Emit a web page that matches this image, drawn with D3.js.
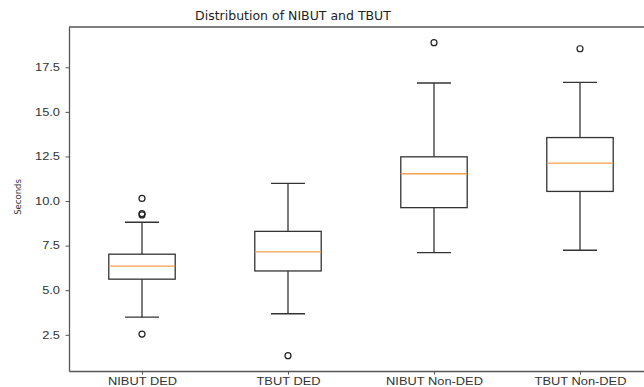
<!DOCTYPE html>
<html>
<head>
<meta charset="utf-8">
<script src="https://cdn.jsdelivr.net/npm/d3@7"></script>
<style>
  body { margin: 0; background: #fff; }
  svg { display: block; font-family: "DejaVu Sans", sans-serif; }
</style>
</head>
<body>
<svg id="chart" width="644" height="387"></svg>
<script>
// --- data ---
const groups    = ["NIBUT DED", "TBUT DED", "NIBUT Non-DED", "TBUT Non-DED"];
const whiskLow  = [3.49, 3.68, 7.11, 7.24];
const q1        = [5.62, 6.08, 9.63, 10.54];
const median    = [6.35, 7.15, 11.53, 12.13];
const q3        = [7.02, 8.30, 12.48, 13.56];
const whiskHigh = [8.81, 10.99, 16.62, 16.66];
const outliers  = [[10.15, 9.30, 9.22, 2.54], [1.33], [18.88], [18.54]];
const yTicks    = [2.5, 5.0, 7.5, 10.0, 12.5, 15.0, 17.5];

const svg = d3.select("#chart");
const m = { left: 69, right: 653, top: 27, bottom: 371 };

const x = d3.scaleLinear().domain([0.5, 4.5]).range([m.left, m.right]);
const y = d3.scaleLinear().domain([0.47, 19.76]).range([m.bottom, m.top]);

const boxW = 0.455, capW = 0.233;
const ink = "#333";

// boxes
const data = groups.map((g, i) => ({
  name: g, pos: i + 1, lo: whiskLow[i], q1: q1[i], med: median[i],
  q3: q3[i], hi: whiskHigh[i], out: outliers[i]
}));

const box = svg.append("g").selectAll("g").data(data).join("g");

// whiskers
box.append("line")
  .attr("x1", d => x(d.pos)).attr("x2", d => x(d.pos))
  .attr("y1", d => y(d.q3)).attr("y2", d => y(d.hi))
  .attr("stroke", ink).attr("stroke-width", 1.3);
box.append("line")
  .attr("x1", d => x(d.pos)).attr("x2", d => x(d.pos))
  .attr("y1", d => y(d.q1)).attr("y2", d => y(d.lo))
  .attr("stroke", ink).attr("stroke-width", 1.3);
// caps
[d => d.hi, d => d.lo].forEach(f => {
  box.append("line")
    .attr("x1", d => x(d.pos - capW / 2)).attr("x2", d => x(d.pos + capW / 2))
    .attr("y1", d => y(f(d))).attr("y2", d => y(f(d)))
    .attr("stroke", ink).attr("stroke-width", 1.3);
});
// box
box.append("rect")
  .attr("x", d => x(d.pos - boxW / 2))
  .attr("width", d => x(d.pos + boxW / 2) - x(d.pos - boxW / 2))
  .attr("y", d => y(d.q3))
  .attr("height", d => y(d.q1) - y(d.q3))
  .attr("fill", "none").attr("stroke", ink).attr("stroke-width", 1.3);
// median
box.append("line")
  .attr("x1", d => x(d.pos - boxW / 2)).attr("x2", d => x(d.pos + boxW / 2))
  .attr("y1", d => y(d.med)).attr("y2", d => y(d.med))
  .attr("stroke", "#f5a04a").attr("stroke-width", 1.3);
// fliers
box.selectAll("circle")
  .data(d => d.out.map(v => ({ pos: d.pos, v })))
  .join("circle")
  .attr("cx", d => x(d.pos)).attr("cy", d => y(d.v))
  .attr("r", 3)
  .attr("fill", "none").attr("stroke", "#222").attr("stroke-width", 1.2);

// axes (tick text is a bit wide in the original, so stretch it horizontally)
const yAxis = svg.append("g")
  .attr("transform", `translate(${m.left},0)`)
  .call(d3.axisLeft(y).tickValues(yTicks).tickFormat(d3.format(".1f")).tickSize(3.5).tickSizeOuter(0));
yAxis.selectAll("text")
  .attr("x", -7.2)
  .attr("transform", "scale(1.25,1)")
  .style("font-size", "10.3px").attr("fill", "#333");

const xAxis = svg.append("g")
  .attr("transform", `translate(0,${m.bottom})`)
  .call(d3.axisBottom(x).tickValues([1, 2, 3, 4]).tickFormat((d, i) => groups[i]).tickSize(3.5).tickSizeOuter(0));
xAxis.selectAll("text")
  .attr("y", 7)
  .attr("transform", "scale(1.25,1)")
  .style("font-size", "10.3px").attr("fill", "#333");

[yAxis, xAxis].forEach(a => {
  a.select(".domain").attr("stroke", "#555").attr("stroke-width", 1.3);
  a.selectAll(".tick line").attr("stroke", "#555");
});

// top spine
svg.append("line")
  .attr("x1", m.left).attr("x2", m.right)
  .attr("y1", m.top).attr("y2", m.top)
  .attr("stroke", "#555").attr("stroke-width", 1.3);

// labels
svg.append("text")
  .attr("transform", `translate(18,${(m.top + m.bottom) / 2 - 2}) rotate(-90)`)
  .attr("text-anchor", "middle")
  .attr("dy", "0.35em")
  .style("font-size", "8.5px")
  .attr("fill", "#333")
  .text("Seconds");

svg.append("text")
  .attr("x", 293)
  .attr("y", 20)
  .attr("text-anchor", "middle")
  .style("font-size", "12.5px")
  .attr("fill", "#222")
  .text("Distribution of NIBUT and TBUT");
</script>
</body>
</html>
